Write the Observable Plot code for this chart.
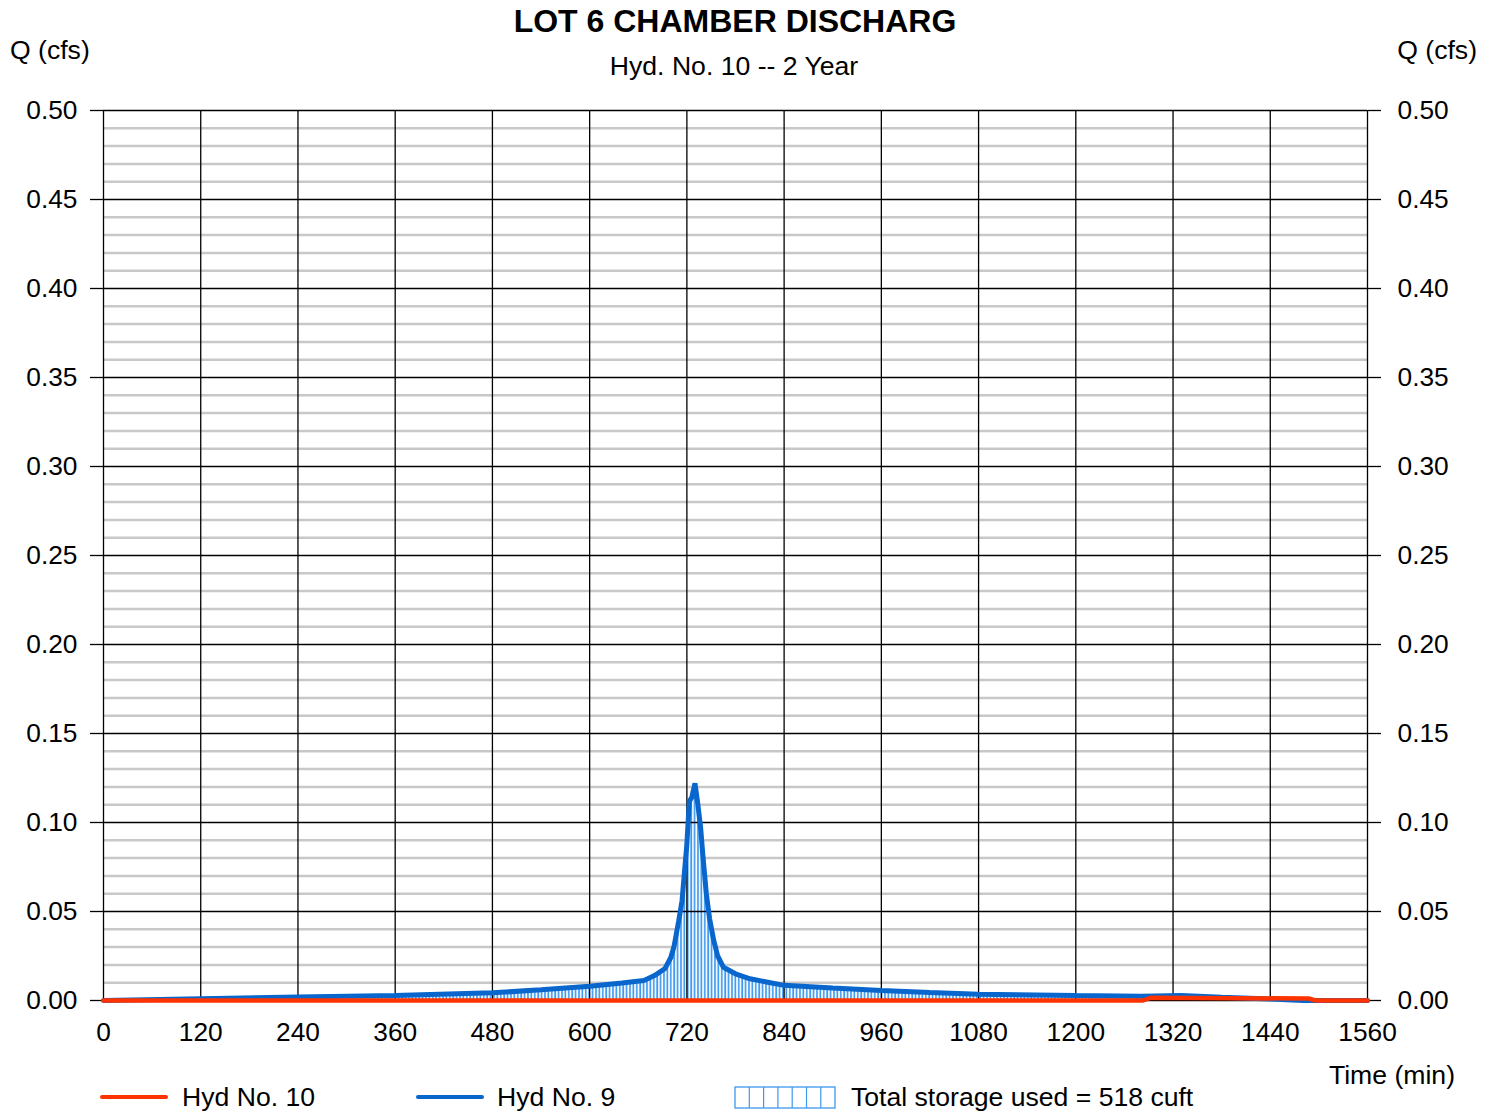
<!DOCTYPE html>
<html>
<head>
<meta charset="utf-8">
<script src="https://cdn.jsdelivr.net/npm/d3@7"></script>
<script src="https://cdn.jsdelivr.net/npm/@observablehq/plot@0.6"></script>
<style>
  body { margin: 0; background: #fff; font-family: "Liberation Sans", Arial, sans-serif; }
  #wrap { position: relative; width: 1494px; height: 1112px; }
  .t { position: absolute; white-space: nowrap; line-height: 1; color: #000; font-size: 26.6px; }
  .sw { position: absolute; height: 4px; width: 68px; border-radius: 2px; }
</style>
</head>
<body>
<div id="wrap"></div>
<script>
// Hyd No. 9 (inflow) hydrograph: time (min) and discharge (cfs)
const inflowTime = [0, 120, 240, 360, 480, 540, 600, 640, 667, 680, 693, 700, 704, 710, 714, 720, 723, 726, 730, 733, 737, 740, 744, 748, 753, 758, 765, 780, 798, 840, 900, 960, 1020, 1080, 1200, 1280, 1330, 1380, 1440, 1480, 1560];
const inflowQ    = [0, 0.001, 0.0019, 0.0028, 0.0043, 0.006, 0.008, 0.0098, 0.0112, 0.014, 0.018, 0.024, 0.030, 0.045, 0.056, 0.088, 0.112, 0.114, 0.122, 0.112, 0.097, 0.080, 0.060, 0.046, 0.034, 0.025, 0.0187, 0.015, 0.0122, 0.0085, 0.007, 0.0056, 0.0045, 0.0035, 0.0028, 0.0024, 0.0028, 0.0018, 0.0008, 0, 0];

// Hyd No. 10 (chamber discharge) hydrograph
const outflowTime = [0, 1283, 1292, 1488, 1496, 1560];
const outflowQ    = [0, 0, 0.0015, 0.0011, 0, 0];

// Axis ticks
const xTicks = [0, 120, 240, 360, 480, 600, 720, 840, 960, 1080, 1200, 1320, 1440, 1560];
const yTicks = [0, 0.05, 0.10, 0.15, 0.20, 0.25, 0.30, 0.35, 0.40, 0.45, 0.50];
const yMinor = d3.range(1, 50).filter(i => i % 5 !== 0).map(i => i / 100);

const inflow = inflowTime.map((t, i) => ({t, q: inflowQ[i]}));
const outflow = outflowTime.map((t, i) => ({t, q: outflowQ[i]}));

const FONT = '"Liberation Sans", Arial, sans-serif';
const RED = "#ff3300";
const BLUE = "#0866cc";

const chart = Plot.plot({
  width: 1494,
  height: 1112,
  marginLeft: 103,
  marginRight: 127,
  marginTop: 110,
  marginBottom: 112,
  x: {domain: [0, 1560]},
  y: {domain: [0, 0.5]},
  style: {fontFamily: FONT, fontSize: "26.3px", color: "#000", background: "transparent", overflow: "visible"},
  marks: [
    Plot.gridY(yMinor, {stroke: "#c8c8c8", strokeOpacity: 1, strokeWidth: 2.5}),
    // storage volume between inflow and outflow
    Plot.areaY(inflow, {x: "t", y: "q", fill: "url(#storageHatch)", curve: "linear"}),
    Plot.gridX(xTicks, {stroke: "#000", strokeOpacity: 1, strokeWidth: 1.3}),
    Plot.gridY(yTicks, {stroke: "#000", strokeOpacity: 1, strokeWidth: 1.3}),
    Plot.axisY(yTicks, {anchor: "left", tickFormat: d => d.toFixed(2), tickSize: 13, tickPadding: 13, label: null, strokeWidth: 1.3}),
    Plot.axisY(yTicks, {anchor: "right", tickFormat: d => d.toFixed(2), tickSize: 13, tickPadding: 17, label: null, strokeWidth: 1.3}),
    Plot.axisX(xTicks, {anchor: "bottom", tickFormat: d => String(d), tickSize: 0, tickPadding: 22, label: null}),
    Plot.line(inflow, {x: "t", y: "q", stroke: BLUE, strokeWidth: 5, strokeLinejoin: "miter"}),
    Plot.line(outflow, {x: "t", y: "q", stroke: RED, strokeWidth: 4.5})
  ]
});

// vertical-line hatch used for the storage fill
d3.select(chart).insert("defs", ":first-child").html(`
  <pattern id="storageHatch" patternUnits="userSpaceOnUse" width="3.4" height="10">
    <rect width="3.4" height="10" fill="#ffffff"/>
    <line x1="1" x2="1" y1="0" y2="10" stroke="#3d98ee" stroke-width="1.7"/>
  </pattern>`);

const wrap = document.getElementById("wrap");
chart.style.position = "absolute";
chart.style.left = "0";
chart.style.top = "0";
wrap.appendChild(chart);

function label(text, x, y, opts = {}) {
  const d = document.createElement("div");
  d.className = "t";
  d.textContent = text;
  d.style.left = x + "px";
  d.style.top = y + "px";
  const ax = opts.align === "center" ? "-50%" : opts.align === "right" ? "-100%" : "0";
  d.style.transform = `translate(${ax}, -50%)`;
  if (opts.size) d.style.fontSize = opts.size + "px";
  if (opts.bold) d.style.fontWeight = "bold";
  wrap.appendChild(d);
  return d;
}

label("LOT 6 CHAMBER DISCHARG", 735, 21, {align: "center", size: 32, bold: true});
label("Hyd. No. 10 -- 2 Year", 734, 66, {align: "center"});
label("Q (cfs)", 10, 50);
label("Q (cfs)", 1477, 50, {align: "right"});
label("Time (min)", 1455, 1075, {align: "right"});

// legend
function swatch(x, color) {
  const s = document.createElement("div");
  s.className = "sw";
  s.style.left = x + "px";
  s.style.top = "1095px";
  s.style.background = color;
  wrap.appendChild(s);
}
swatch(100, RED);
label("Hyd No. 10", 182, 1097);
swatch(416, BLUE);
label("Hyd No. 9", 497, 1097);

const key = d3.create("svg")
  .attr("width", 102).attr("height", 23)
  .style("position", "absolute").style("left", "734px").style("top", "1086px");
key.append("rect").attr("x", 1).attr("y", 1).attr("width", 100).attr("height", 21)
  .attr("fill", "#fff").attr("stroke", "#3d98ee").attr("stroke-width", 1.3);
key.selectAll("line").data(d3.range(1, 7)).join("line")
  .attr("x1", d => 1 + d * 14.3).attr("x2", d => 1 + d * 14.3)
  .attr("y1", 1).attr("y2", 22)
  .attr("stroke", "#3d98ee").attr("stroke-width", 1.2);
wrap.appendChild(key.node());
label("Total storage used = 518 cuft", 851, 1097);
</script>
</body>
</html>
